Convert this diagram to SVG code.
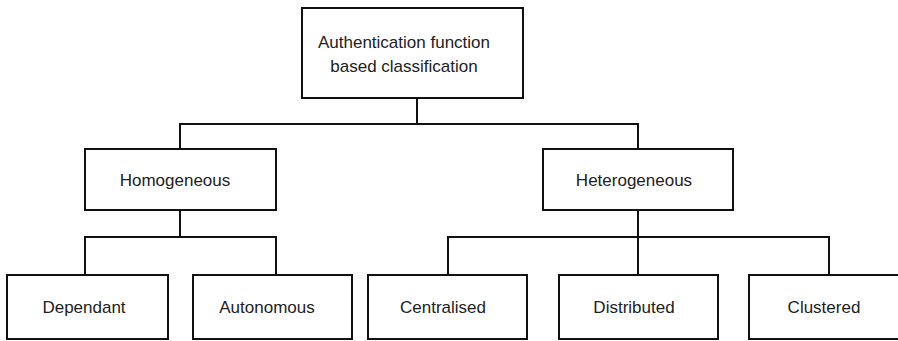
<svg xmlns="http://www.w3.org/2000/svg" width="898" height="341" viewBox="0 0 898 341">
<style>
.box{fill:#fff;stroke:#111;stroke-width:2}
.lbl{font-family:"Liberation Sans",Arial,sans-serif;font-size:17px;fill:#222;text-anchor:middle}
.conn{fill:none;stroke:#111;stroke-width:2}
</style>
<rect width="898" height="341" fill="#fff"/>
<g id="connectors" class="conn">
<path d="M417,98 V124"/>
<path d="M180,149 V124 H638 V149"/>
<path d="M180,210 V237"/>
<path d="M85,275 V237 H276 V275"/>
<path d="M638,210 V275"/>
<path d="M448,275 V237 H829 V275"/>
</g>
<g id="root">
<rect class="box" x="302" y="8" width="221" height="90"/>
<text class="lbl" x="404" y="48">Authentication function</text>
<text class="lbl" x="404" y="72">based classification</text>
</g>
<g id="homogeneous">
<rect class="box" x="85" y="149" width="191" height="61"/>
<text class="lbl" x="175" y="186">Homogeneous</text>
</g>
<g id="heterogeneous">
<rect class="box" x="543" y="149" width="190" height="61"/>
<text class="lbl" x="634" y="186">Heterogeneous</text>
</g>
<g id="dependant">
<rect class="box" x="7" y="275" width="161" height="64"/>
<text class="lbl" x="84" y="313">Dependant</text>
</g>
<g id="autonomous">
<rect class="box" x="193" y="275" width="159" height="64"/>
<text class="lbl" x="267" y="313">Autonomous</text>
</g>
<g id="centralised">
<rect class="box" x="368" y="275" width="159" height="64"/>
<text class="lbl" x="443" y="313">Centralised</text>
</g>
<g id="distributed">
<rect class="box" x="559" y="275" width="159" height="64"/>
<text class="lbl" x="634" y="313">Distributed</text>
</g>
<g id="clustered">
<rect class="box" x="749" y="275" width="152" height="64"/>
<text class="lbl" x="824" y="313">Clustered</text>
</g>
</svg>
